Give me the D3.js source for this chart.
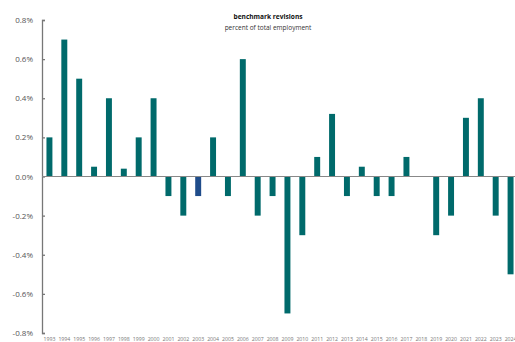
<!DOCTYPE html>
<html>
<head>
<meta charset="utf-8">
<script src="https://d3js.org/d3.v7.min.js"></script>
<style>
    body { margin: 0; background: #ffffff; }
    .font { font-family: "Open Sans", "Noto Sans", sans-serif; }
    .title { font-size: 6.6px; font-weight: bold; fill: #111111; }
    .subtitle { font-size: 6.5px; fill: #333333; }
    .y-axis text { font-family: "Open Sans", "Noto Sans", sans-serif; font-size: 8px; fill: #555555; }
    .y-axis path, .y-axis line { stroke: #777777; stroke-width: 1.3; }
    .x-label { font-size: 5.2px; fill: #777777; }
    .zero-line { stroke: #888888; stroke-width: 1; }
</style>
</head>
<body>
<script>
    const WIDTH = 515;
    const HEIGHT = 342;

    const years = ["1993", "1994", "1995", "1996", "1997", "1998", "1999", "2000",
        "2001", "2002", "2003", "2004", "2005", "2006", "2007", "2008",
        "2009", "2010", "2011", "2012", "2013", "2014", "2015", "2016",
        "2017", "2018", "2019", "2020", "2021", "2022", "2023", "2024"];
    // revision, percent of total employment
    const revisions = [0.2, 0.7, 0.5, 0.05, 0.4, 0.04, 0.2, 0.4,
        -0.1, -0.2, -0.1, 0.2, -0.1, 0.6, -0.2, -0.1,
        -0.7, -0.3, 0.1, 0.32, -0.1, 0.05, -0.1, -0.1,
        0.1, 0.0, -0.3, -0.2, 0.3, 0.4, -0.2, -0.5];
    const highlightYears = ["2003"];
    const yTicks = [-0.8, -0.6, -0.4, -0.2, 0.0, 0.2, 0.4, 0.6, 0.8];

    const TEAL = "#006a6b";
    const BLUE = "#1f4c8a";

    var svg = d3.select("body")
        .append("svg")
        .attr("width", WIDTH)
        .attr("height", HEIGHT);

    var x = d3.scaleBand()
        .domain(years)
        .range([42, 518])
        .paddingInner(0.6)
        .paddingOuter(0.3);

    var y = d3.scaleLinear()
        .domain([-0.8, 0.8])
        .range([333, 20]);

    var yAxis = d3.axisLeft(y)
        .tickValues(yTicks)
        .tickSize(-3)
        .tickSizeOuter(-3)
        .tickPadding(9)
        .tickFormat(function(d) { return d.toFixed(1) + "%"; });

    svg.append("g")
        .attr("class", "y-axis")
        .attr("transform", "translate(42,0)")
        .call(yAxis);

    svg.append("g")
        .selectAll("rect")
        .data(revisions)
        .enter()
        .append("rect")
        .attr("x", function(d, i) { return x(years[i]); })
        .attr("width", x.bandwidth())
        .attr("y", function(d) { return y(Math.max(0, d)); })
        .attr("height", function(d) { return Math.abs(y(d) - y(0)); })
        .attr("fill", function(d, i) {
            return highlightYears.indexOf(years[i]) >= 0 ? BLUE : TEAL;
        });

    svg.append("line")
        .attr("class", "zero-line")
        .attr("x1", 42)
        .attr("x2", WIDTH)
        .attr("y1", y(0))
        .attr("y2", y(0));

    svg.append("g")
        .selectAll("text")
        .data(years)
        .enter()
        .append("text")
        .attr("class", "font x-label")
        .attr("text-anchor", "middle")
        .attr("x", function(d) { return x(d) + x.bandwidth() / 2; })
        .attr("y", 341)
        .text(function(d) { return d; });

    svg.append("text")
        .attr("class", "font title")
        .attr("text-anchor", "middle")
        .attr("x", 268)
        .attr("y", 19)
        .text("benchmark revisions");

    svg.append("text")
        .attr("class", "font subtitle")
        .attr("text-anchor", "middle")
        .attr("x", 268)
        .attr("y", 30)
        .text("percent of total employment");
</script>
</body>
</html>
